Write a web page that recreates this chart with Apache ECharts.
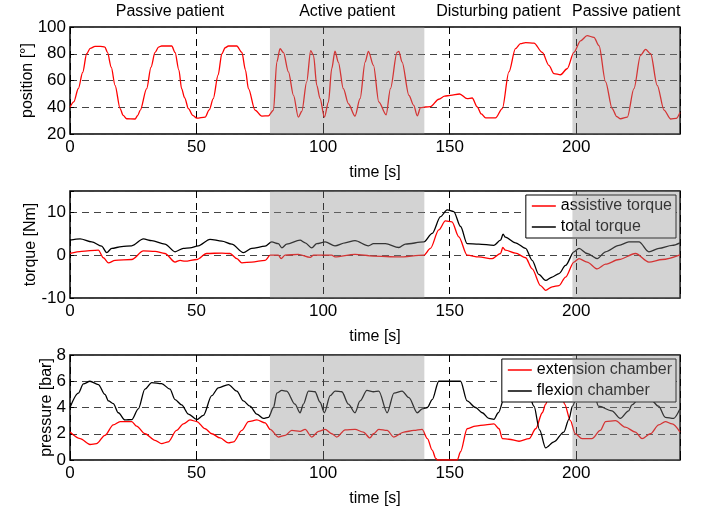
<!DOCTYPE html>
<html>
<head>
<meta charset="utf-8">
<script src="https://cdn.jsdelivr.net/npm/echarts@6.0.0/dist/echarts.min.js"></script>
<style>
html, body { margin: 0; padding: 0; background: #fff; }
#chart { width: 722px; height: 508px; }
</style>
</head>
<body>
<div id="chart"></div>
<script>
// time axis + phases of the experiment
const tMax = 241;
const phaseStart = [0, 79, 140, 198.5];
const phaseEnd = [79, 140, 198.5, 241];
const phaseName = ['Passive patient', 'Active patient', 'Disturbing patient', 'Passive patient'];
const phaseShaded = [0, 1, 0, 1];

// knee position [deg], [t, value]
const position = [[0,40],[1.5,44],[3.3,54],[5,66],[6.6,80],[8,84],[9.9,85.5],[12,85.5],[13.8,85],[14.8,81],[16.3,70],[17.8,56.4],[19.8,39],[21,34],[22.4,31.4],[25.7,31.2],[26.8,34],[27.7,37.6],[30.3,53.9],[32,70],[33.6,81],[35,85],[36.2,85.8],[40.2,85.8],[41.5,81],[43,68],[44.1,53.9],[45.3,47],[46.8,39],[48.5,34],[50.1,31.8],[53.4,32.6],[55,38],[56.6,46.4],[58.5,64],[60,80],[61.3,84.5],[62.6,85.8],[65.9,85.8],[67.9,81],[69.3,68],[70.5,53.9],[73.1,37.9],[75.8,33.4],[78.4,33.6],[80.4,37.9],[81.7,73.8],[83,83.8],[84.3,81],[86.3,66.4],[88.3,48.9],[90.2,32.6],[91.6,37],[93.5,59],[95.1,82.4],[96.2,78.8],[97.5,56.4],[98.8,46.4],[100.5,32.6],[102.1,43.9],[103.4,68.8],[104.7,82],[106,73.8],[108,53.9],[110,42.6],[112.6,33.4],[114.6,46.4],[116.6,73.8],[117.9,81.8],[119.9,71.3],[122,44],[124.9,34.4],[126.6,53.9],[129.2,81],[129.9,81.8],[131.2,73.8],[133.9,48.9],[135.8,41.4],[137.2,33.6],[138.5,39.7],[140.5,40.2],[142.4,40.4],[145.7,46],[148,48.3],[150.3,48.9],[153.9,49.9],[156.9,46.4],[158.9,46.9],[160.9,40.2],[162.5,35],[164.2,32],[168.1,32],[170.8,39],[173.4,66.4],[176,83.8],[178,87.5],[180,88.3],[183.3,88],[186.6,81],[189.2,71.3],[191.2,65.1],[193.8,64.3],[196.4,68.8],[199.1,81],[201.7,89.7],[204.3,93.5],[207,92.3],[209,86],[211.6,59],[214.2,39],[216,33],[217.5,31.4],[220.2,32.6],[222.8,53.9],[225.4,78.8],[227.4,83.3],[229.4,80],[232,56.4],[234.7,37.9],[237.3,31.2],[239.5,31.7],[241,36.1]];

// torques [Nm]
const assistiveTorque = [[0,0.4],[4.6,0.9],[11.2,1.2],[13.2,-0.6],[15.2,-1.8],[17.8,-1.2],[24.4,-1.0],[29,1.0],[33.6,0.9],[37.5,0.4],[41.5,-1.6],[43.5,-1.2],[45.4,-1.4],[50.1,-1.0],[54,0.4],[60,0.5],[63.2,0.4],[65.9,-0.8],[67.9,-1.8],[71.8,-1.6],[77.1,-1.2],[79.1,0],[82.3,0],[83.4,-0.8],[85,0],[90.2,0.2],[94.9,-0.5],[96.2,0],[103.4,0],[104.7,-0.4],[112.6,0.2],[119.9,-0.2],[129.9,-0.4],[139.8,0],[142.4,1.6],[145.7,5.9],[148.3,8.0],[150.9,7.8],[153.6,4.3],[156.9,0],[161.5,-0.4],[166.8,-0.8],[170.1,0.4],[171,1.8],[172,1.2],[176,0.5],[180,-0.6],[182.6,-3.2],[185.9,-7.1],[187.9,-8.2],[190.5,-7.4],[193.2,-7.1],[195.8,-5.1],[199.1,-1.6],[201.1,-0.8],[204.3,-1.6],[208.3,-3.2],[211.6,-2.1],[216.9,-1.0],[223.4,0.4],[228.7,-1.6],[234,-1.0],[241,0.1]];
const totalTorque = [[0,3.5],[4,3.8],[8.6,3.1],[12.5,2.1],[14.5,0.6],[16.5,1.6],[20.4,2.0],[24.4,2.2],[29,3.8],[32.3,3.4],[37.5,2.6],[41.5,0.8],[44.8,1.6],[47.4,1.7],[50.7,2.2],[55.3,3.7],[60,3.3],[63.9,2.6],[68.5,0.6],[71.8,1.6],[77.1,2.1],[79.7,3.1],[82.3,2.7],[83.7,1.7],[85.6,2.6],[90.9,3.5],[92.9,2.9],[95.5,1.7],[97.5,2.7],[100.8,3.1],[104.7,2.2],[108.7,2.9],[112.6,3.4],[117.9,2.2],[119.9,2.7],[124.6,2.7],[129.9,1.8],[132.5,2.6],[139.8,3.1],[143.1,5.1],[146.4,9.0],[149,10.6],[151.6,10.2],[154.3,6.7],[156.9,2.7],[161.5,2.6],[167.5,2.3],[170.1,3.5],[171.1,4.9],[172,4.2],[176,2.9],[180,1.6],[182.6,-1.2],[185.2,-4.5],[187.9,-5.9],[190.5,-5.1],[193.2,-4.3],[195.8,-2.4],[199.1,0.8],[201.1,1.6],[204.3,0.4],[208.3,-0.8],[211.6,0.8],[216.9,2.3],[220.8,3.1],[224.8,3.1],[228.7,0.8],[232.7,1.6],[237.9,2.3],[241,2.9]];

// chamber pressures [bar]
const extensionPressure = [[0,2.13],[4,1.63],[7.9,1.18],[10.5,1.25],[13.8,1.88],[17.1,2.68],[19.8,2.93],[24.4,2.93],[26.3,2.58],[29.6,2.0],[33.6,1.5],[36.2,1.25],[38.8,1.38],[42.1,2.25],[44.8,2.75],[47.4,3.05],[50.1,2.93],[53.4,2.38],[56,2.0],[59.3,1.68],[62.6,1.3],[64.6,1.38],[67.9,2.25],[70.5,2.93],[73.8,3.05],[77.1,2.83],[79.1,2.33],[82.3,1.75],[85,1.88],[87.6,2.25],[90.9,2.18],[92.9,2.33],[95.5,1.75],[98.2,2.18],[100.8,2.33],[103.4,2.0],[105.4,1.75],[108.7,2.3],[112.6,2.33],[115.9,2.13],[118.5,1.68],[119.9,2.0],[122,2.33],[125.3,2.25],[127.9,1.75],[131.9,2.13],[135.8,2.25],[139.1,2.33],[141.2,1.63],[143.1,0.75],[144.5,0.13],[145.1,0],[153,0],[154.3,0.63],[156.9,2.38],[160.2,2.58],[164.2,2.68],[167.5,2.75],[169.5,2.38],[170.8,1.63],[173.4,1.58],[177.4,1.43],[181.4,1.63],[184,2.38],[186.6,3.6],[187.9,4.25],[190,5.5],[192,5.9],[194,5.4],[195.4,4.25],[197.7,3.0],[199.6,2.0],[202.3,1.63],[206.2,1.63],[209.5,2.25],[211.6,2.93],[215.5,3.0],[219.4,2.5],[223.4,2.13],[226,1.63],[229.3,2.0],[232.6,2.68],[235.2,2.93],[237.9,2.75],[241,2.13]];
const flexionPressure = [[0,4.0],[3.3,5.1],[5.3,5.8],[7.9,6.0],[11.2,5.75],[13.8,5.0],[15.2,4.5],[17.1,4.3],[19.1,3.6],[21.7,3.05],[24.4,3.08],[27,3.9],[29.6,5.4],[32.3,5.9],[36.2,5.82],[39.5,5.4],[41.5,4.6],[44.1,4.2],[46.8,3.5],[50.1,3.08],[52.7,3.4],[56,4.9],[58.6,5.5],[62.6,5.75],[65.9,5.25],[68.5,4.5],[71.1,4.1],[73.8,3.5],[76.4,3.17],[78.4,3.25],[80.4,4.0],[81.7,5.1],[83.7,5.3],[85.6,5.25],[88.9,4.25],[90.9,3.6],[92.2,4.25],[94.2,5.25],[96.8,5.2],[98.8,4.4],[100.5,3.6],[102.8,4.9],[104.7,5.25],[107.4,5.2],[110,4.25],[112.6,3.6],[114.6,4.5],[117.3,5.3],[119.9,5.2],[122,5.25],[125.3,3.6],[128,5.1],[131.2,5.25],[133.9,4.75],[137.2,3.6],[139.2,3.9],[141.2,4.0],[143.1,4.6],[145.7,6.0],[154.3,6.0],[156.9,4.5],[160.2,4.0],[162.9,3.6],[165.5,3.17],[167.5,3.1],[169.2,3.6],[172,5.0],[175,5.8],[178,5.9],[181,5.2],[183.3,4.1],[185.5,2.3],[187.9,0.93],[191.2,1.38],[195.1,2.13],[197.1,3.1],[198.5,4.1],[201,5.3],[204,5.6],[207,5.1],[208.8,4.1],[214.1,3.75],[217.4,3.17],[220.7,3.75],[222,4.2],[225,4.7],[229,4.7],[232.5,4.1],[235.2,3.25],[238.5,3.17],[241,3.9]];

const font = '"Liberation Sans", Arial, sans-serif';
const chart = echarts.init(document.getElementById('chart'));

function xAxis(i) {
  return {
    gridIndex: i, type: 'value', min: 0, max: tMax, interval: 50,
    name: 'time [s]', nameLocation: 'middle', nameGap: 31, nameMoveOverlap: false,
    nameTextStyle: { fontSize: 16, color: '#000', fontFamily: font },
    axisLine: { show: false },
    axisTick: { inside: true, length: 4, lineStyle: { color: '#000' } },
    axisLabel: {
      fontSize: 17, color: '#000', fontFamily: font, margin: 5,
      formatter: v => (v % 50 === 0 ? String(v) : '')
    },
    splitLine: { show: true, lineStyle: { type: [7, 5], color: '#000', width: 1 } }
  };
}

function yAxis(i, name, min, max, interval, gap) {
  return {
    gridIndex: i, type: 'value', min: min, max: max, interval: interval,
    name: name, nameLocation: 'middle', nameGap: gap, nameMoveOverlap: false,
    nameTextStyle: { fontSize: 16, color: '#000', fontFamily: font },
    axisLine: { show: false },
    axisTick: { inside: true, length: 4, lineStyle: { color: '#000' } },
    axisLabel: {
      fontSize: 17, color: '#000', fontFamily: font, margin: 4,
      formatter: v => (v % interval === 0 ? String(v) : '')
    },
    splitLine: { show: true, lineStyle: { type: [7, 5], color: '#444', width: 1 } }
  };
}

function line(name, data, color, i) {
  return {
    name: name, type: 'line', xAxisIndex: i, yAxisIndex: i, data: data,
    symbol: 'none', showSymbol: false, silent: true,
    smooth: 0.3, smoothMonotone: 'x',
    lineStyle: { color: color, width: 1.3 }, itemStyle: { color: color }, z: 3
  };
}

// grey overlay for the active / second passive phases (+ phase titles on top)
function phases(i, withLabel) {
  return {
    type: 'custom', xAxisIndex: i, yAxisIndex: i, silent: true, z: 10,
    encode: { x: [0, 1], y: 2 },
    data: phaseStart.map((s, k) => [s, phaseEnd[k], phaseShaded[k]]),
    renderItem: function (params, api) {
      const cs = params.coordSys;
      const x0 = api.coord([api.value(0), 0])[0];
      const x1 = api.coord([api.value(1), 0])[0];
      const children = [];
      if (api.value(2)) {
        children.push({
          type: 'rect',
          shape: { x: x0, y: cs.y, width: x1 - x0, height: cs.height },
          style: { fill: 'rgba(140,140,140,0.38)' }
        });
      }
      if (withLabel) {
        // keep the last title inside the canvas like the original
        const cx = Math.min((x0 + x1) / 2, cs.x + cs.width - 47);
        children.push({
          type: 'text', x: cx, y: cs.y - 15,
          style: { text: phaseName[params.dataIndex], fill: '#000', font: '16px ' + font, align: 'center', verticalAlign: 'middle' }
        });
      }
      return { type: 'group', children: children };
    }
  };
}

function legend(names, top) {
  return {
    data: names, orient: 'vertical', right: 46, top: top,
    backgroundColor: '#fff', borderColor: '#000', borderWidth: 1, borderRadius: 0,
    padding: [3, 4, 3, 6], itemGap: 5, itemWidth: 24, itemHeight: 1.5,
    icon: 'rect', selectedMode: false,
    textStyle: { fontSize: 16, color: '#000', fontFamily: font }
  };
}

const gridBase = { left: 70, width: 610, height: 107, show: true, borderColor: '#000', borderWidth: 1.5, backgroundColor: '#fff' };

chart.setOption({
  animation: false,
  grid: [
    Object.assign({ top: 27 }, gridBase),
    Object.assign({ top: 191 }, gridBase),
    Object.assign({ top: 355 }, gridBase)
  ],
  xAxis: [xAxis(0), xAxis(1), xAxis(2)],
  yAxis: [
    yAxis(0, 'position [°]', 20, 100, 20, 34),
    yAxis(1, 'torque [Nm]', -10, 15, 10, 31),
    yAxis(2, 'pressure [bar]', 0, 8, 2, 15)
  ],
  legend: [
    legend(['assistive torque', 'total torque'], 195),
    legend(['extension chamber', 'flexion chamber'], 359)
  ],
  series: [
    line('position', position, '#ff0000', 0),
    line('assistive torque', assistiveTorque, '#ff0000', 1),
    line('total torque', totalTorque, '#000000', 1),
    line('extension chamber', extensionPressure, '#ff0000', 2),
    line('flexion chamber', flexionPressure, '#000000', 2),
    phases(0, true),
    phases(1, false),
    phases(2, false)
  ]
});
</script>
</body>
</html>
